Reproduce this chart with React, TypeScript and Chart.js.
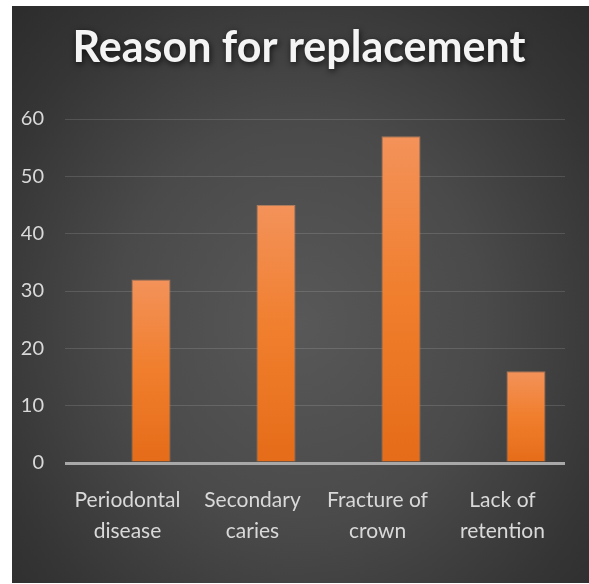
import React, { useEffect, useRef } from "react";
import { Chart, registerables } from "chart.js";

Chart.register(...registerables);

const categories: string[][] = [
  ["Periodontal", "disease"],
  ["Secondary", "caries"],
  ["Fracture of", "crown"],
  ["Lack of", "retention"],
];
// Empty leading series keeps the bars offset to the right of each category slot.
const emptySeries: (number | null)[] = [null, null, null, null];
const replacementCounts: number[] = [32, 45, 57, 16];
const yTicks: number[] = [0, 10, 20, 30, 40, 50, 60];

const chartTitle = "Reason for replacement";
const FONT = "Lato, 'Open Sans', sans-serif";

// Soft drop shadow under the title, centred over the whole panel rather than the padded box.
const titleGlow = {
  id: "titleGlow",
  beforeDraw(chart: any) {
    const tb = chart.titleBlock;
    if (!tb || tb.__glow) return;
    const orig = tb.draw.bind(tb);
    tb.draw = (area: any) => {
      const ctx = chart.ctx;
      ctx.save();
      ctx.translate(10.5, 0);
      ctx.shadowColor = "rgba(0,0,0,0.75)";
      ctx.shadowBlur = 6;
      ctx.shadowOffsetX = 1;
      ctx.shadowOffsetY = 2;
      orig(area);
      ctx.restore();
    };
    tb.__glow = true;
  },
};

function barFill(c: any) {
  const chart = c.chart;
  if (!chart.chartArea || c.type !== "data" || c.raw == null) return "#EE7B2C";
  const y = chart.scales.y;
  const top = y.getPixelForValue(c.raw);
  const bottom = y.getPixelForValue(0);
  const g = chart.ctx.createLinearGradient(0, top, 0, bottom);
  g.addColorStop(0, "#F3925A");
  g.addColorStop(0.5, "#F07E2C");
  g.addColorStop(1, "#E56C19");
  return g;
}

export default function App() {
  const canvasRef = useRef<HTMLCanvasElement | null>(null);

  useEffect(() => {
    if (!canvasRef.current) return;
    const chart = new Chart(canvasRef.current, {
      type: "bar",
      data: {
        labels: categories,
        datasets: [
          {
            label: "",
            data: emptySeries,
            backgroundColor: "rgba(0,0,0,0)",
            categoryPercentage: 0.752,
            barPercentage: 0.83,
          },
          {
            label: chartTitle,
            data: replacementCounts,
            backgroundColor: barFill,
            borderColor: "rgba(248,160,105,0.55)",
            borderWidth: 1,
            categoryPercentage: 0.752,
            barPercentage: 0.83,
          },
        ],
      },
      options: {
        responsive: false,
        animation: false,
        layout: { padding: { left: 0, right: 24, top: 0, bottom: 0 } },
        plugins: {
          legend: { display: false },
          tooltip: { enabled: false },
          title: {
            display: true,
            text: chartTitle,
            color: "#F4F4F4",
            font: { family: FONT, size: 43, weight: "bold", lineHeight: 1.2 },
            padding: { top: 16, bottom: 45.4 },
          },
        },
        scales: {
          x: {
            grid: { display: false, drawTicks: false },
            border: { display: false },
            ticks: {
              color: "#D9D9D9",
              padding: 21,
              maxRotation: 0,
              autoSkip: false,
              font: { family: FONT, size: 21, lineHeight: 1.5 },
            },
            afterFit: (axis: any) => {
              axis.height = 120;
            },
          },
          y: {
            min: 0,
            max: 60,
            afterBuildTicks: (axis: any) => {
              axis.ticks = yTicks.map((v) => ({ value: v }));
            },
            grid: {
              drawTicks: false,
              color: (c: any) => (c.tick && c.tick.value === 0 ? "#A8A8A8" : "rgba(255,255,255,0.13)"),
              lineWidth: (c: any) => (c.tick && c.tick.value === 0 ? 3 : 1),
            },
            border: { display: false },
            ticks: {
              color: "#D9D9D9",
              padding: 21,
              font: { family: FONT, size: 20 },
            },
            afterFit: (axis: any) => {
              axis.width = 53;
            },
          },
        },
      },
      plugins: [titleGlow],
    });
    return () => chart.destroy();
  }, []);

  return (
    <div
      style={{
        position: "absolute",
        left: 12,
        top: 6,
        width: 577,
        height: 577,
        background:
          "radial-gradient(ellipse at 50% 55%, #585858 0%, #4a4a4a 45%, #353535 80%, #2c2c2c 100%)",
      }}
    >
      <canvas ref={canvasRef} width={577} height={577} style={{ display: "block" }} />
    </div>
  );
}
